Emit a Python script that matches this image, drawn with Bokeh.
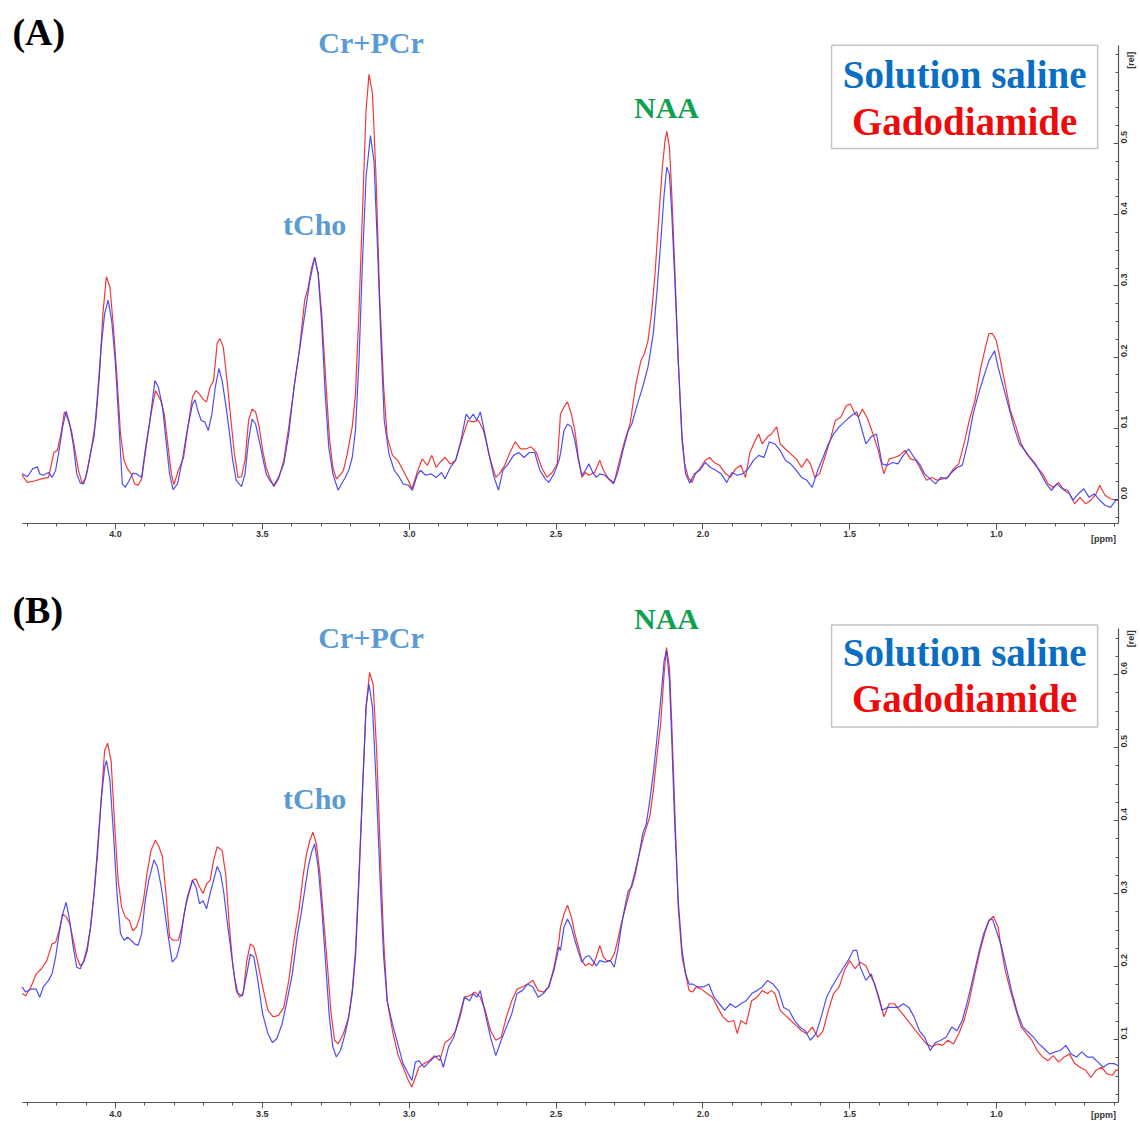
import math
from bokeh.plotting import figure
from bokeh.models import (Range1d, FixedTicker, PrintfTickFormatter, Label, BoxAnnotation,
                          ColumnDataSource, LinearAxis)
from bokeh.layouts import column
from bokeh.embed import file_html
from bokeh.resources import INLINE

# ---------------- data (ppm, relative intensity) ----------------
PPM_TICKS = [4.0, 3.5, 3.0, 2.5, 2.0, 1.5, 1.0]
REL_TICKS_A = [0.0, 0.1, 0.2, 0.3, 0.4, 0.5]
REL_TICKS_B = [0.1, 0.2, 0.3, 0.4, 0.5, 0.6]
SERIES_NAMES = ["Solution saline", "Gadodiamide"]
PEAK_NAMES = ["Cr+PCr", "tCho", "NAA"]

SALINE_A = [(4.318,0.036),(4.300,0.032),(4.282,0.043),(4.266,0.046),(4.258,0.036),(4.246,0.034),(4.228,0.038),(4.216,0.031),(4.204,0.041),(4.192,0.069),(4.180,0.102),(4.168,0.124),(4.156,0.106),(4.144,0.078),(4.132,0.036),(4.120,0.023),(4.108,0.022),(4.096,0.041),(4.085,0.066),(4.073,0.088),(4.061,0.148),(4.049,0.214),(4.037,0.261),(4.025,0.280),(4.013,0.251),(4.001,0.195),(3.989,0.111),(3.977,0.022),(3.967,0.017),(3.953,0.027),(3.941,0.037),(3.929,0.036),(3.911,0.031),(3.899,0.069),(3.881,0.116),(3.866,0.167),(3.854,0.158),(3.840,0.130),(3.828,0.083),(3.816,0.036),(3.804,0.014),(3.789,0.022),(3.774,0.052),(3.756,0.097),(3.738,0.134),(3.729,0.140),(3.720,0.125),(3.708,0.111),(3.696,0.109),(3.684,0.097),(3.672,0.120),(3.660,0.158),(3.648,0.184),(3.637,0.167),(3.625,0.134),(3.613,0.097),(3.601,0.055),(3.589,0.027),(3.571,0.018),(3.559,0.036),(3.547,0.083),(3.535,0.113),(3.523,0.106),(3.511,0.083),(3.499,0.059),(3.487,0.036),(3.475,0.027),(3.461,0.020),(3.445,0.031),(3.427,0.050),(3.410,0.092),(3.392,0.158),(3.374,0.209),(3.362,0.242),(3.350,0.275),(3.338,0.308),(3.322,0.340),(3.310,0.317),(3.298,0.247),(3.286,0.148),(3.274,0.074),(3.260,0.036),(3.242,0.013),(3.230,0.022),(3.218,0.031),(3.206,0.041),(3.194,0.059),(3.183,0.097),(3.171,0.195),(3.159,0.336),(3.147,0.453),(3.132,0.511),(3.120,0.476),(3.108,0.354),(3.096,0.219),(3.085,0.111),(3.069,0.064),(3.051,0.041),(3.033,0.031),(3.021,0.022),(3.003,0.020),(2.989,0.013),(2.973,0.034),(2.962,0.041),(2.944,0.034),(2.926,0.036),(2.908,0.031),(2.890,0.038),(2.878,0.029),(2.860,0.045),(2.842,0.055),(2.824,0.083),(2.806,0.120),(2.794,0.113),(2.782,0.120),(2.770,0.111),(2.758,0.123),(2.747,0.102),(2.729,0.064),(2.711,0.031),(2.696,0.013),(2.681,0.041),(2.663,0.050),(2.645,0.062),(2.627,0.066),(2.609,0.059),(2.591,0.066),(2.573,0.066),(2.555,0.041),(2.537,0.029),(2.525,0.024),(2.507,0.036),(2.490,0.055),
(2.485,0.064),(2.473,0.097),(2.461,0.106),(2.448,0.102),(2.436,0.083),(2.424,0.055),(2.412,0.034),(2.400,0.041),(2.388,0.050),(2.375,0.038),(2.363,0.031),(2.351,0.036),(2.333,0.034),(2.321,0.029),(2.305,0.022),(2.290,0.038),(2.272,0.069),(2.254,0.097),(2.242,0.106),(2.223,0.134),(2.205,0.158),(2.187,0.186),(2.169,0.233),(2.157,0.289),(2.144,0.359),(2.132,0.429),(2.123,0.467),(2.114,0.457),(2.106,0.401),(2.096,0.312),(2.084,0.195),(2.071,0.083),(2.059,0.036),(2.045,0.023),(2.029,0.036),(2.011,0.041),(1.992,0.052),(1.974,0.045),(1.956,0.041),(1.938,0.036),(1.919,0.024),(1.901,0.038),(1.883,0.034),(1.865,0.036),(1.846,0.043),(1.828,0.055),(1.810,0.062),(1.792,0.059),(1.774,0.081),(1.755,0.078),(1.737,0.069),(1.719,0.055),(1.701,0.050),(1.682,0.041),(1.664,0.031),(1.646,0.027),(1.628,0.017),(1.609,0.041),(1.591,0.059),(1.573,0.078),(1.555,0.092),(1.536,0.102),(1.518,0.109),(1.494,0.118),(1.476,0.123),(1.464,0.106),(1.445,0.078),(1.427,0.088),(1.409,0.092),(1.390,0.050),(1.372,0.048),(1.354,0.052),(1.336,0.050),(1.318,0.062),(1.299,0.071),(1.281,0.059),(1.263,0.050),(1.245,0.036),(1.226,0.029),(1.208,0.022),(1.190,0.031),(1.172,0.029),(1.153,0.038),(1.135,0.045),(1.117,0.048),(1.099,0.078),(1.080,0.120),(1.062,0.148),(1.044,0.172),(1.026,0.195),(1.007,0.209),(0.995,0.186),(0.977,0.158),(0.959,0.130),(0.941,0.102),(0.922,0.078),(0.904,0.069),(0.886,0.059),(0.868,0.050),(0.849,0.036),(0.831,0.022),(0.813,0.013),(0.795,0.022),(0.776,0.015),(0.758,0.013),(0.740,-0.001),(0.722,0.008),(0.703,0.015),(0.685,0.003),(0.667,0.008),(0.649,-0.001),(0.631,-0.008),(0.612,-0.011),(0.594,-0.001),(0.586,-0.001)]

GADO_A = [(4.318,0.034),(4.300,0.024),(4.276,0.026),(4.252,0.029),(4.228,0.031),(4.210,0.066),(4.198,0.069),(4.186,0.092),(4.174,0.123),(4.162,0.113),(4.150,0.097),(4.138,0.069),(4.126,0.041),(4.114,0.023),(4.102,0.029),(4.085,0.064),(4.067,0.111),(4.055,0.172),(4.043,0.261),(4.031,0.313),(4.019,0.298),(4.007,0.242),(3.995,0.172),(3.983,0.092),(3.971,0.055),(3.959,0.043),(3.947,0.036),(3.935,0.022),(3.923,0.020),(3.911,0.029),(3.899,0.064),(3.881,0.116),(3.864,0.153),(3.846,0.139),(3.834,0.120),(3.822,0.078),(3.810,0.036),(3.801,0.021),(3.786,0.041),(3.768,0.059),(3.750,0.111),(3.738,0.144),(3.726,0.153),(3.714,0.148),(3.702,0.141),(3.690,0.137),(3.678,0.158),(3.666,0.167),(3.654,0.219),(3.645,0.226),(3.633,0.214),(3.619,0.162),(3.607,0.111),(3.595,0.064),(3.583,0.031),(3.571,0.032),(3.559,0.055),(3.547,0.111),(3.535,0.127),(3.523,0.123),(3.511,0.102),(3.499,0.069),(3.487,0.045),(3.475,0.031),(3.461,0.018),(3.445,0.029),(3.427,0.055),(3.410,0.102),(3.392,0.158),(3.374,0.209),(3.356,0.280),(3.344,0.298),(3.332,0.326),(3.322,0.340),(3.310,0.317),(3.298,0.261),(3.284,0.167),(3.272,0.088),(3.260,0.045),(3.248,0.029),(3.236,0.034),(3.224,0.041),(3.212,0.062),(3.194,0.102),(3.183,0.148),(3.171,0.265),(3.159,0.406),(3.147,0.546),(3.137,0.597),(3.125,0.570),(3.113,0.453),(3.101,0.289),(3.087,0.158),(3.075,0.088),(3.057,0.062),(3.039,0.055),(3.021,0.041),(3.003,0.027),(2.991,0.015),(2.973,0.038),(2.956,0.057),(2.938,0.048),(2.923,0.062),(2.908,0.045),(2.896,0.052),(2.878,0.059),(2.860,0.050),(2.842,0.055),(2.818,0.088),(2.800,0.111),(2.782,0.109),(2.764,0.111),(2.747,0.097),(2.723,0.055),(2.705,0.031),(2.693,0.036),(2.675,0.048),(2.657,0.066),(2.639,0.081),(2.621,0.071),(2.603,0.071),(2.585,0.074),(2.567,0.066),(2.549,0.045),(2.531,0.031),(2.513,0.038),(2.496,0.050),
(2.485,0.120),(2.473,0.130),(2.461,0.137),(2.448,0.120),(2.436,0.097),(2.424,0.059),(2.412,0.031),(2.400,0.038),(2.388,0.034),(2.369,0.038),(2.351,0.055),(2.339,0.041),(2.321,0.029),(2.302,0.024),(2.284,0.055),(2.266,0.083),(2.248,0.106),(2.230,0.158),(2.211,0.195),(2.199,0.205),(2.187,0.223),(2.175,0.261),(2.163,0.317),(2.150,0.397),(2.138,0.467),(2.129,0.504),(2.123,0.517),(2.114,0.495),(2.106,0.429),(2.096,0.326),(2.084,0.195),(2.071,0.088),(2.062,0.050),(2.050,0.031),(2.037,0.024),(2.025,0.036),(2.011,0.043),(1.992,0.055),(1.977,0.059),(1.962,0.052),(1.944,0.048),(1.926,0.038),(1.907,0.031),(1.889,0.043),(1.871,0.048),(1.855,0.031),(1.840,0.066),(1.822,0.083),(1.810,0.092),(1.798,0.078),(1.780,0.088),(1.767,0.092),(1.749,0.102),(1.737,0.078),(1.719,0.071),(1.701,0.064),(1.682,0.057),(1.664,0.045),(1.646,0.057),(1.634,0.050),(1.619,0.031),(1.603,0.036),(1.585,0.059),(1.567,0.083),(1.549,0.111),(1.530,0.116),(1.512,0.132),(1.498,0.134),(1.482,0.120),(1.470,0.116),(1.457,0.127),(1.439,0.113),(1.421,0.092),(1.403,0.069),(1.384,0.036),(1.366,0.057),(1.348,0.059),(1.330,0.062),(1.312,0.069),(1.293,0.057),(1.275,0.055),(1.257,0.041),(1.239,0.027),(1.220,0.031),(1.202,0.027),(1.184,0.029),(1.166,0.031),(1.147,0.043),(1.129,0.050),(1.111,0.078),(1.093,0.111),(1.074,0.139),(1.056,0.181),(1.038,0.214),(1.026,0.233),(1.014,0.233),(1.001,0.223),(0.989,0.200),(0.971,0.162),(0.953,0.125),(0.934,0.102),(0.916,0.078),(0.898,0.064),(0.880,0.055),(0.862,0.045),(0.843,0.036),(0.825,0.022),(0.807,0.017),(0.789,0.024),(0.770,0.013),(0.752,0.008),(0.734,-0.006),(0.716,0.003),(0.697,-0.006),(0.679,-0.001),(0.661,0.008),(0.649,0.020),(0.631,0.006),(0.612,0.001),(0.594,-0.001),(0.586,-0.001)]

SALINE_B = [(4.318,0.172),(4.306,0.165),(4.288,0.169),(4.270,0.169),(4.258,0.158),(4.246,0.172),(4.228,0.181),(4.216,0.190),(4.204,0.213),(4.192,0.245),(4.180,0.272),(4.168,0.288),(4.156,0.263),(4.144,0.227),(4.132,0.199),(4.120,0.197),(4.108,0.208),(4.096,0.227),(4.085,0.254),(4.073,0.300),(4.061,0.364),(4.049,0.427),(4.037,0.473),(4.031,0.482),(4.019,0.455),(4.007,0.382),(3.995,0.300),(3.983,0.245),(3.971,0.236),(3.959,0.240),(3.947,0.236),(3.935,0.231),(3.923,0.229),(3.911,0.245),(3.899,0.290),(3.887,0.318),(3.869,0.346),(3.857,0.336),(3.846,0.313),(3.834,0.281),(3.822,0.245),(3.807,0.206),(3.792,0.213),(3.780,0.231),(3.768,0.268),(3.756,0.295),(3.738,0.318),(3.726,0.309),(3.714,0.286),(3.702,0.290),(3.690,0.279),(3.678,0.300),(3.666,0.318),(3.654,0.337),(3.642,0.327),(3.631,0.300),(3.619,0.259),(3.607,0.222),(3.595,0.185),(3.583,0.163),(3.568,0.160),(3.553,0.190),(3.541,0.217),(3.529,0.213),(3.517,0.185),(3.499,0.135),(3.481,0.108),(3.466,0.096),(3.451,0.101),(3.433,0.121),(3.416,0.153),(3.398,0.190),(3.380,0.245),(3.368,0.272),(3.356,0.304),(3.344,0.336),(3.332,0.357),(3.322,0.368),(3.310,0.336),(3.298,0.281),(3.286,0.213),(3.272,0.131),(3.260,0.090),(3.248,0.076),(3.234,0.085),(3.218,0.108),(3.206,0.131),(3.194,0.163),(3.183,0.213),(3.171,0.318),(3.159,0.441),(3.147,0.555),(3.137,0.587),(3.125,0.555),(3.113,0.455),(3.099,0.318),(3.087,0.213),(3.075,0.153),(3.057,0.121),(3.039,0.094),(3.021,0.067),(3.003,0.053),(2.991,0.044),(2.979,0.069),(2.967,0.071),(2.950,0.062),(2.932,0.069),(2.914,0.076),(2.896,0.078),(2.884,0.062),(2.866,0.090),(2.848,0.103),(2.830,0.131),(2.812,0.158),(2.794,0.153),(2.782,0.163),(2.770,0.158),(2.758,0.167),(2.741,0.135),(2.723,0.103),(2.705,0.078),(2.687,0.099),(2.669,0.117),(2.651,0.135),(2.633,0.163),(2.615,0.167),(2.597,0.176),(2.579,0.172),(2.561,0.158),(2.543,0.163),(2.525,0.172),(2.507,0.195),(2.490,0.227),
(2.485,0.222),(2.473,0.254),(2.461,0.265),(2.448,0.254),(2.436,0.236),(2.424,0.220),(2.412,0.206),(2.400,0.213),(2.388,0.215),(2.375,0.208),(2.363,0.201),(2.351,0.208),(2.333,0.206),(2.315,0.208),(2.302,0.199),(2.290,0.222),(2.278,0.254),(2.266,0.281),(2.254,0.304),(2.242,0.309),(2.230,0.327),(2.217,0.354),(2.205,0.382),(2.193,0.395),(2.181,0.427),(2.169,0.464),(2.157,0.510),(2.144,0.564),(2.132,0.619),(2.124,0.633),(2.114,0.592),(2.106,0.510),(2.096,0.395),(2.084,0.290),(2.071,0.222),(2.059,0.190),(2.047,0.176),(2.035,0.176),(2.017,0.172),(1.998,0.172),(1.980,0.176),(1.962,0.158),(1.944,0.149),(1.926,0.140),(1.907,0.149),(1.889,0.144),(1.871,0.149),(1.853,0.153),(1.834,0.163),(1.816,0.167),(1.798,0.172),(1.780,0.181),(1.761,0.176),(1.743,0.167),(1.725,0.144),(1.707,0.140),(1.688,0.126),(1.670,0.117),(1.652,0.112),(1.634,0.099),(1.615,0.108),(1.597,0.131),(1.579,0.158),(1.561,0.172),(1.542,0.185),(1.524,0.197),(1.506,0.208),(1.488,0.222),(1.476,0.222),(1.464,0.199),(1.445,0.181),(1.427,0.190),(1.409,0.167),(1.390,0.140),(1.372,0.144),(1.354,0.144),(1.336,0.144),(1.318,0.149),(1.299,0.144),(1.281,0.131),(1.263,0.112),(1.245,0.103),(1.226,0.085),(1.208,0.096),(1.190,0.099),(1.172,0.103),(1.153,0.117),(1.135,0.112),(1.117,0.126),(1.099,0.153),(1.080,0.185),(1.062,0.217),(1.044,0.245),(1.026,0.263),(1.014,0.265),(1.001,0.249),(0.983,0.227),(0.965,0.195),(0.947,0.163),(0.928,0.135),(0.910,0.117),(0.892,0.110),(0.874,0.103),(0.856,0.094),(0.837,0.087),(0.819,0.080),(0.801,0.083),(0.783,0.085),(0.764,0.092),(0.746,0.080),(0.728,0.076),(0.710,0.083),(0.691,0.076),(0.673,0.076),(0.655,0.069),(0.637,0.062),(0.618,0.067),(0.600,0.067),(0.586,0.064)]

GADO_B = [(4.318,0.163),(4.306,0.160),(4.288,0.172),(4.270,0.190),(4.252,0.197),(4.234,0.208),(4.216,0.231),(4.204,0.233),(4.192,0.249),(4.180,0.272),(4.168,0.268),(4.156,0.259),(4.144,0.236),(4.132,0.213),(4.120,0.201),(4.108,0.206),(4.096,0.222),(4.085,0.254),(4.073,0.300),(4.061,0.354),(4.049,0.427),(4.037,0.496),(4.027,0.506),(4.015,0.482),(4.003,0.395),(3.991,0.318),(3.979,0.281),(3.967,0.268),(3.953,0.263),(3.941,0.249),(3.929,0.254),(3.917,0.268),(3.905,0.290),(3.893,0.327),(3.879,0.359),(3.864,0.373),(3.852,0.364),(3.840,0.350),(3.828,0.300),(3.816,0.240),(3.804,0.236),(3.786,0.236),(3.774,0.254),(3.762,0.281),(3.750,0.300),(3.738,0.318),(3.726,0.320),(3.714,0.309),(3.702,0.300),(3.690,0.313),(3.678,0.318),(3.666,0.345),(3.654,0.364),(3.637,0.359),(3.625,0.327),(3.613,0.259),(3.601,0.204),(3.589,0.167),(3.577,0.158),(3.565,0.163),(3.553,0.208),(3.541,0.231),(3.529,0.227),(3.517,0.208),(3.499,0.172),(3.481,0.140),(3.463,0.131),(3.445,0.133),(3.427,0.144),(3.410,0.181),(3.392,0.236),(3.374,0.281),(3.362,0.322),(3.350,0.354),(3.338,0.373),(3.328,0.384),(3.316,0.368),(3.304,0.327),(3.292,0.268),(3.278,0.199),(3.266,0.135),(3.254,0.099),(3.242,0.094),(3.224,0.108),(3.206,0.131),(3.194,0.167),(3.183,0.222),(3.171,0.327),(3.159,0.441),(3.147,0.555),(3.135,0.603),(3.123,0.587),(3.111,0.496),(3.099,0.364),(3.087,0.236),(3.075,0.153),(3.057,0.112),(3.039,0.080),(3.021,0.062),(3.003,0.044),(2.991,0.035),(2.979,0.048),(2.967,0.062),(2.950,0.067),(2.932,0.071),(2.914,0.078),(2.896,0.071),(2.878,0.096),(2.860,0.101),(2.842,0.112),(2.824,0.135),(2.812,0.158),(2.794,0.160),(2.776,0.165),(2.758,0.158),(2.741,0.140),(2.723,0.112),(2.705,0.099),(2.687,0.103),(2.669,0.131),(2.651,0.153),(2.633,0.169),(2.615,0.172),(2.597,0.176),(2.579,0.181),(2.561,0.167),(2.543,0.165),(2.525,0.172),(2.507,0.199),(2.490,0.236),
(2.485,0.254),(2.473,0.272),(2.461,0.284),(2.448,0.268),(2.436,0.245),(2.424,0.227),(2.412,0.208),(2.400,0.201),(2.388,0.204),(2.375,0.201),(2.363,0.213),(2.351,0.229),(2.339,0.213),(2.327,0.208),(2.315,0.208),(2.302,0.217),(2.290,0.236),(2.278,0.259),(2.266,0.277),(2.254,0.295),(2.242,0.313),(2.230,0.332),(2.217,0.354),(2.199,0.382),(2.181,0.405),(2.169,0.441),(2.157,0.487),(2.144,0.532),(2.132,0.601),(2.124,0.637),(2.114,0.610),(2.106,0.532),(2.096,0.418),(2.084,0.281),(2.071,0.213),(2.059,0.190),(2.047,0.167),(2.035,0.165),(2.023,0.172),(2.005,0.169),(1.986,0.163),(1.968,0.158),(1.950,0.144),(1.932,0.131),(1.913,0.124),(1.895,0.126),(1.883,0.108),(1.871,0.126),(1.853,0.121),(1.834,0.153),(1.816,0.158),(1.798,0.167),(1.780,0.163),(1.767,0.167),(1.755,0.163),(1.737,0.140),(1.719,0.133),(1.701,0.126),(1.682,0.119),(1.664,0.112),(1.646,0.108),(1.628,0.117),(1.609,0.103),(1.591,0.112),(1.573,0.140),(1.555,0.163),(1.536,0.172),(1.518,0.195),(1.500,0.208),(1.482,0.197),(1.464,0.206),(1.445,0.201),(1.433,0.190),(1.415,0.176),(1.397,0.153),(1.384,0.131),(1.366,0.149),(1.348,0.149),(1.330,0.140),(1.312,0.131),(1.293,0.121),(1.275,0.112),(1.257,0.103),(1.239,0.094),(1.220,0.090),(1.202,0.094),(1.184,0.092),(1.166,0.099),(1.147,0.094),(1.129,0.108),(1.111,0.126),(1.093,0.153),(1.074,0.190),(1.056,0.222),(1.038,0.249),(1.026,0.263),(1.011,0.269),(0.995,0.254),(0.983,0.222),(0.971,0.195),(0.953,0.167),(0.934,0.140),(0.916,0.117),(0.898,0.108),(0.880,0.099),(0.862,0.085),(0.843,0.076),(0.825,0.071),(0.807,0.078),(0.789,0.069),(0.770,0.076),(0.752,0.080),(0.734,0.067),(0.716,0.062),(0.697,0.058),(0.679,0.048),(0.661,0.058),(0.643,0.062),(0.624,0.053),(0.606,0.051),(0.594,0.058),(0.586,0.058)]

# ---------------- styling ----------------
BLUE_LINE = "#3c3cf0"
RED_LINE = "#f03a3a"
PEAK_BLUE = "#5b9bd5"
NAA_GREEN = "#10a050"
LEG_BLUE = "#0a6fc2"
LEG_RED = "#ee0a0a"
SERIF = "Liberation Serif"
SANS = "Liberation Sans"
AXIS_GREY = "#555555"
PPM_START, PPM_END = 4.317, 0.585


def style_axis(ax):
    ax.axis_line_color = AXIS_GREY
    ax.axis_line_width = 1.2
    ax.major_tick_line_color = AXIS_GREY
    ax.minor_tick_line_color = AXIS_GREY
    ax.major_label_text_font = SANS
    ax.major_label_text_font_style = "bold"
    ax.major_label_text_font_size = "9px"
    ax.major_label_text_color = "#333333"


def make_panel(tag, saline, gado, y_view, y_axis, rel_ticks, height, pos):
    # the frame covers the whole canvas; axes are pinned at fixed data locations
    p = figure(width=1140, height=height, x_range=Range1d(4.3916, 0.5101),
               y_range=Range1d(*y_view), x_axis_location=None, y_axis_location=None,
               toolbar_location=None, output_backend="svg",
               min_border_left=0, min_border_right=0, min_border_top=0, min_border_bottom=0)
    p.grid.visible = False
    p.outline_line_color = None
    p.background_fill_color = "white"
    p.border_fill_color = "white"

    minor_x = [round(4.3 - 0.1 * i, 1) for i in range(38)]
    xa = LinearAxis(fixed_location=y_axis[0], bounds=(PPM_END, PPM_START),
                    ticker=FixedTicker(ticks=PPM_TICKS, minor_ticks=minor_x),
                    formatter=PrintfTickFormatter(format="%.1f"))
    style_axis(xa)
    xa.major_tick_in = 0
    xa.major_tick_out = 6
    xa.minor_tick_in = 0
    xa.minor_tick_out = 3
    xa.major_label_standoff = 2
    p.add_layout(xa, "below")

    lo = rel_ticks[0] - 0.1
    minor_y = [round(lo + 0.025 * i, 3) for i in range(32)]
    minor_y = [t for t in minor_y if y_axis[0] <= t <= y_axis[1]]
    ya = LinearAxis(fixed_location=PPM_END, bounds=y_axis,
                    ticker=FixedTicker(ticks=rel_ticks, minor_ticks=minor_y),
                    formatter=PrintfTickFormatter(format="%.1f"))
    style_axis(ya)
    ya.major_tick_in = 5
    ya.major_tick_out = 0
    ya.minor_tick_in = 3
    ya.minor_tick_out = 0
    ya.major_label_standoff = 6
    ya.major_label_orientation = math.pi / 2
    p.add_layout(ya, "right")

    sx, sy = zip(*saline)
    gx, gy = zip(*gado)
    p.line(x="x", y="y", source=ColumnDataSource(dict(x=list(gx), y=list(gy))),
           line_color=RED_LINE, line_width=1.2)
    p.line(x="x", y="y", source=ColumnDataSource(dict(x=list(sx), y=list(sy))),
           line_color=BLUE_LINE, line_width=1.2, line_alpha=0.9)

    # legend box
    p.add_layout(BoxAnnotation(left=1.562, right=0.656, top=pos["box_top"], bottom=pos["box_bot"],
                               fill_color="white", fill_alpha=1.0,
                               line_color="#3a3a3a", line_width=1.5))
    for name, yy, col in ((SERIES_NAMES[0], pos["leg1"], LEG_BLUE),
                          (SERIES_NAMES[1], pos["leg2"], LEG_RED)):
        p.add_layout(Label(x=1.109, y=yy, text=name, text_font=SERIF,
                           text_font_style="bold", text_font_size="39px", text_color=col,
                           text_align="center", text_baseline="middle"))

    # peak labels
    for name, xx, yy, col in ((PEAK_NAMES[0], 3.130, pos["cr"], PEAK_BLUE),
                              (PEAK_NAMES[1], 3.322, pos["cho"], PEAK_BLUE),
                              (PEAK_NAMES[2], 2.124, pos["naa"], NAA_GREEN)):
        p.add_layout(Label(x=xx, y=yy, text=name, text_font=SERIF,
                           text_font_style="bold", text_font_size="30px", text_color=col,
                           text_align="center", text_baseline="middle"))

    # panel tag
    p.add_layout(Label(x=4.351, y=pos["tag"], text=tag, text_font=SERIF,
                       text_font_style="bold", text_font_size="38px", text_color="black",
                       text_align="left", text_baseline="middle"))

    # axis unit labels
    p.add_layout(Label(x=0.636, y=pos["ppm"], text="[ppm]", text_font=SANS,
                       text_font_style="bold", text_font_size="9px", text_color="#333333",
                       text_align="center", text_baseline="middle"))
    p.add_layout(Label(x=0.541, y=pos["rel"], text="[rel]", text_font=SANS,
                       text_font_style="bold", text_font_size="9px", text_color="#333333",
                       text_align="center", text_baseline="middle", angle=math.pi / 2))
    return p


pos_a = dict(box_top=0.638, box_bot=0.493, leg1=0.597, leg2=0.531,
             cr=0.642, cho=0.386, naa=0.551, tag=0.657, ppm=-0.055, rel=0.617)
pos_b = dict(box_top=0.668, box_bot=0.528, leg1=0.630, leg2=0.567,
             cr=0.651, cho=0.430, naa=0.677, tag=0.689, ppm=-0.004, rel=0.649)

pa = make_panel("(A)", SALINE_A, GADO_A, (-0.0955, 0.7008), (-0.0337, 0.6376),
                REL_TICKS_A, 567, pos_a)
pb = make_panel("(B)", SALINE_B, GADO_B, (-0.0123, 0.7466), (0.0137, 0.6630),
                REL_TICKS_B, 554, pos_b)

layout = column(pa, pb)
open("out.html", "w").write(file_html(layout, INLINE))
